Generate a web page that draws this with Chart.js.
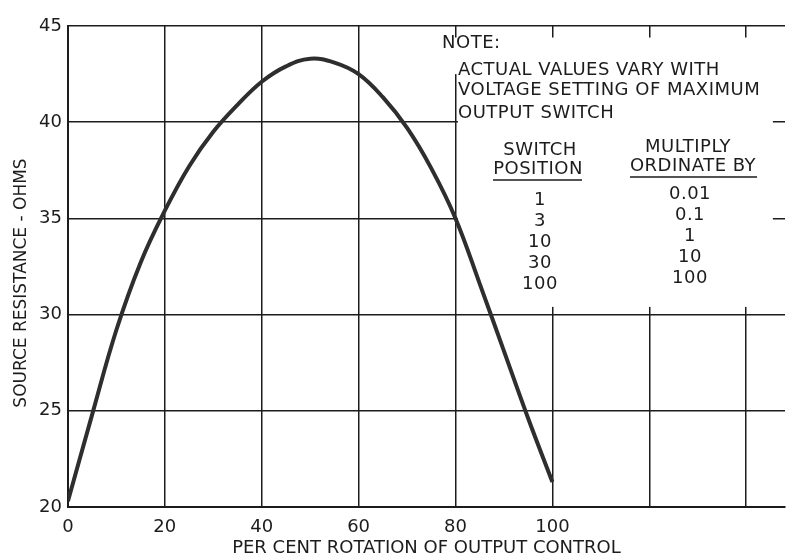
<!DOCTYPE html>
<html>
<head>
<meta charset="utf-8">
<script src="https://cdn.jsdelivr.net/npm/chart.js@4.4.1/dist/chart.umd.min.js"></script>
<style>
  html, body { margin: 0; padding: 0; background: #fff; }
  #wrap { width: 787px; height: 557px; position: relative; }
</style>
</head>
<body>
<div id="wrap"><canvas id="chart"></canvas></div>
<script>
/* ===== data ===== */
const rotation   = [0, 5, 10, 15, 20, 25, 30, 35, 40, 45, 50, 55, 60, 65, 70, 75, 80, 85, 90, 95, 100];
const resistance = [20.3, 24.8, 29.2, 32.7, 35.4, 37.7, 39.5, 40.9, 42.1, 42.9, 43.3, 43.1, 42.5, 41.3, 39.7, 37.6, 35.0, 31.6, 28.1, 24.6, 21.3];
const xLabelled  = [0, 20, 40, 60, 80, 100];

const yTitle = 'SOURCE RESISTANCE - OHMS';
const noteHead = 'NOTE:';
const noteLines = ['ACTUAL VALUES VARY WITH', 'VOLTAGE SETTING OF MAXIMUM', 'OUTPUT SWITCH'];
const colHeadA = ['SWITCH', 'POSITION'];
const colHeadB = ['MULTIPLY', 'ORDINATE BY'];
const switchPositions = ['1', '3', '10', '30', '100'];
const multipliers = ['0.01', '0.1', '1', '10', '100'];

const INK = '#1c1c1c';
const FONT = "'DejaVu Sans', 'Liberation Sans', sans-serif";

Chart.defaults.font.family = FONT;
Chart.defaults.color = INK;

/* white panel for the note, painted over the grid, plus the note text */
const notePanel = {
    id: 'notePanel',
    beforeDatasetsDraw(chart) {
        const { ctx, scales: { x, y } } = chart;
        const box = (x0, x1, y0, y1) => ctx.fillRect(x.getPixelForValue(x0), y.getPixelForValue(y0),
            x.getPixelForValue(x1) - x.getPixelForValue(x0), y.getPixelForValue(y1) - y.getPixelForValue(y0));
        ctx.save();
        ctx.fillStyle = '#fff';
        box(77.5, 145.5, 44.4, 42.5);   // upper strip covers the 80 line too
        box(80.5, 145.5, 42.6, 30.4);
        ctx.restore();
    },
    afterDatasetsDraw(chart) {
        const { ctx } = chart;
        ctx.save();
        ctx.fillStyle = INK;
        ctx.strokeStyle = INK;
        ctx.textBaseline = 'middle';

        // y axis title, placed like the original lettering
        ctx.font = '17px ' + FONT;
        ctx.textAlign = 'center';
        ctx.translate(22, 283);
        ctx.rotate(-Math.PI / 2);
        ctx.fillText(yTitle, 0, 0);
        ctx.setTransform(1, 0, 0, 1, 0, 0);

        ctx.font = '18px ' + FONT;
        ctx.letterSpacing = '0.5px';

        ctx.textAlign = 'left';
        ctx.fillText(noteHead, 442, 43);
        [70, 90, 113].forEach((yy, i) => ctx.fillText(noteLines[i], 458, yy));

        ctx.textAlign = 'center';
        ctx.fillText(colHeadA[0], 540, 150);
        ctx.fillText(colHeadA[1], 538, 169);
        ctx.fillText(colHeadB[0], 688, 147);
        ctx.fillText(colHeadB[1], 693, 166);

        ctx.lineWidth = 1.5;
        ctx.beginPath();
        ctx.moveTo(493, 180); ctx.lineTo(582, 180);
        ctx.moveTo(630, 177); ctx.lineTo(757, 177);
        ctx.stroke();

        switchPositions.forEach((s, i) => ctx.fillText(s, 540, 200 + i * 21));
        multipliers.forEach((s, i) => ctx.fillText(s, 690, 194 + i * 21));
        ctx.restore();
    }
};

new Chart(document.getElementById('chart'), {
    type: 'line',
    data: {
        labels: rotation,
        datasets: [{
            data: rotation.map((r, i) => ({ x: r, y: resistance[i] })),
            borderColor: '#2e2e2e',
            borderWidth: 4,
            pointRadius: 0,
            tension: 0.4,
            fill: false
        }]
    },
    options: {
        responsive: true, maintainAspectRatio: false, animation: false,
        layout: { padding: { top: 26, right: 2, left: 33, bottom: 0 } },
        plugins: { legend: { display: false }, tooltip: { enabled: false } },
        scales: {
            x: {
                type: 'linear', min: 0, max: 148,
                ticks: {
                    stepSize: 20, includeBounds: false, padding: 11,
                    font: { size: 18, lineHeight: 1 },
                    callback: v => xLabelled.includes(v) ? v : ''
                },
                grid: { color: INK, lineWidth: 1.5, drawTicks: false },
                border: { color: INK, width: 2 },
                title: { display: true, text: 'PER CENT ROTATION OF OUTPUT CONTROL', font: { size: 18, lineHeight: 1 }, padding: { top: -8, bottom: 0 } }
            },
            y: {
                min: 20, max: 45,
                ticks: { stepSize: 5, padding: 6, font: { size: 18 } },
                grid: { color: INK, lineWidth: 1.5, drawTicks: false },
                border: { color: INK, width: 2 }
            }
        }
    },
    plugins: [notePanel]
});
</script>
</body>
</html>
